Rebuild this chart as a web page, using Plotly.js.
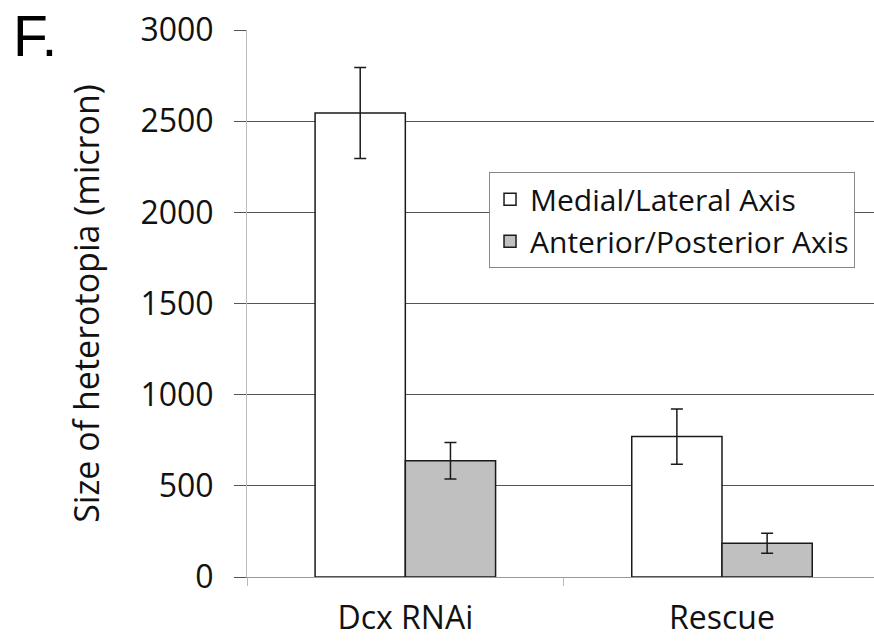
<!DOCTYPE html>
<html>
<head>
<meta charset="utf-8">
<script src="https://cdn.plot.ly/plotly-3.0.1.min.js"></script>
<style>html,body{margin:0;padding:0;background:#fff;}#chart{width:874px;height:643px;}</style>
</head>
<body>
<div id="chart"></div>
<script>
const categories = ["Dcx RNAi", "Rescue"];
const seriesNames = ["Medial/Lateral Axis", "Anterior/Posterior Axis"];
const medialLateral = [2545, 770];
const medialLateralErr = [250, 152];
const anteriorPosterior = [638, 185];
const anteriorPosteriorErr = [100, 55];
const yTicks = [0, 500, 1000, 1500, 2000, 2500, 3000];

const font = "Open Sans, DejaVu Sans, sans-serif";

const traces = [
  {
    type: "bar", name: seriesNames[0], x: categories, y: medialLateral,
    marker: {color: "#ffffff", line: {color: "#1a1a1a", width: 1.5}},
    error_y: {type: "data", array: medialLateralErr, visible: true, color: "#1a1a1a", thickness: 1.5, width: 6}
  },
  {
    type: "bar", name: seriesNames[1], x: categories, y: anteriorPosterior,
    marker: {color: "#c0c0c0", line: {color: "#1a1a1a", width: 1.5}},
    error_y: {type: "data", array: anteriorPosteriorErr, visible: true, color: "#1a1a1a", thickness: 1.5, width: 6}
  }
];

const layout = {
  width: 874, height: 643,
  margin: {l: 247, r: 0, t: 30, b: 66},
  paper_bgcolor: "#fff", plot_bgcolor: "#fff",
  font: {family: font, color: "#111", size: 26},
  barmode: "group", bargap: 0.43, bargroupgap: 0,
  showlegend: true,
  legend: {
    x: 0.386, y: 0.74, xanchor: "left", yanchor: "top",
    bgcolor: "#fff", bordercolor: "#888", borderwidth: 1,
    font: {family: font, size: 30, color: "#111"},
    tracegroupgap: 0
  },
  xaxis: {
    range: [-0.5, 1.48], type: "category",
    showline: true, linecolor: "#999", linewidth: 1,
    ticks: "outside", tickson: "boundaries", ticklen: 8, tickcolor: "#bbb",
    ticklabelstandoff: 13,
    tickfont: {family: font, size: 32, color: "#111"},
    showgrid: false, zeroline: false
  },
  yaxis: {
    range: [0, 3000], tickvals: yTicks,
    showline: true, linecolor: "#bbb", linewidth: 1,
    ticks: "outside", ticklen: 12, tickcolor: "#555",
    ticklabelstandoff: 14,
    showgrid: true, gridcolor: "#555", gridwidth: 1.2,
    zeroline: false,
    tickfont: {family: font, size: 32, color: "#111"},
    title: {text: "Size of heterotopia (micron)", font: {family: font, size: 34, color: "#111"}, standoff: 30}
  },
  annotations: [
    {text: "F.", xref: "paper", yref: "paper", x: -0.376, y: 1.051, xanchor: "left", yanchor: "top",
     showarrow: false, font: {family: "Liberation Sans, Arial, sans-serif", size: 57, color: "#000"}}
  ]
};

Plotly.newPlot("chart", traces, layout, {displayModeBar: false, staticPlot: true});
</script>
</body>
</html>
